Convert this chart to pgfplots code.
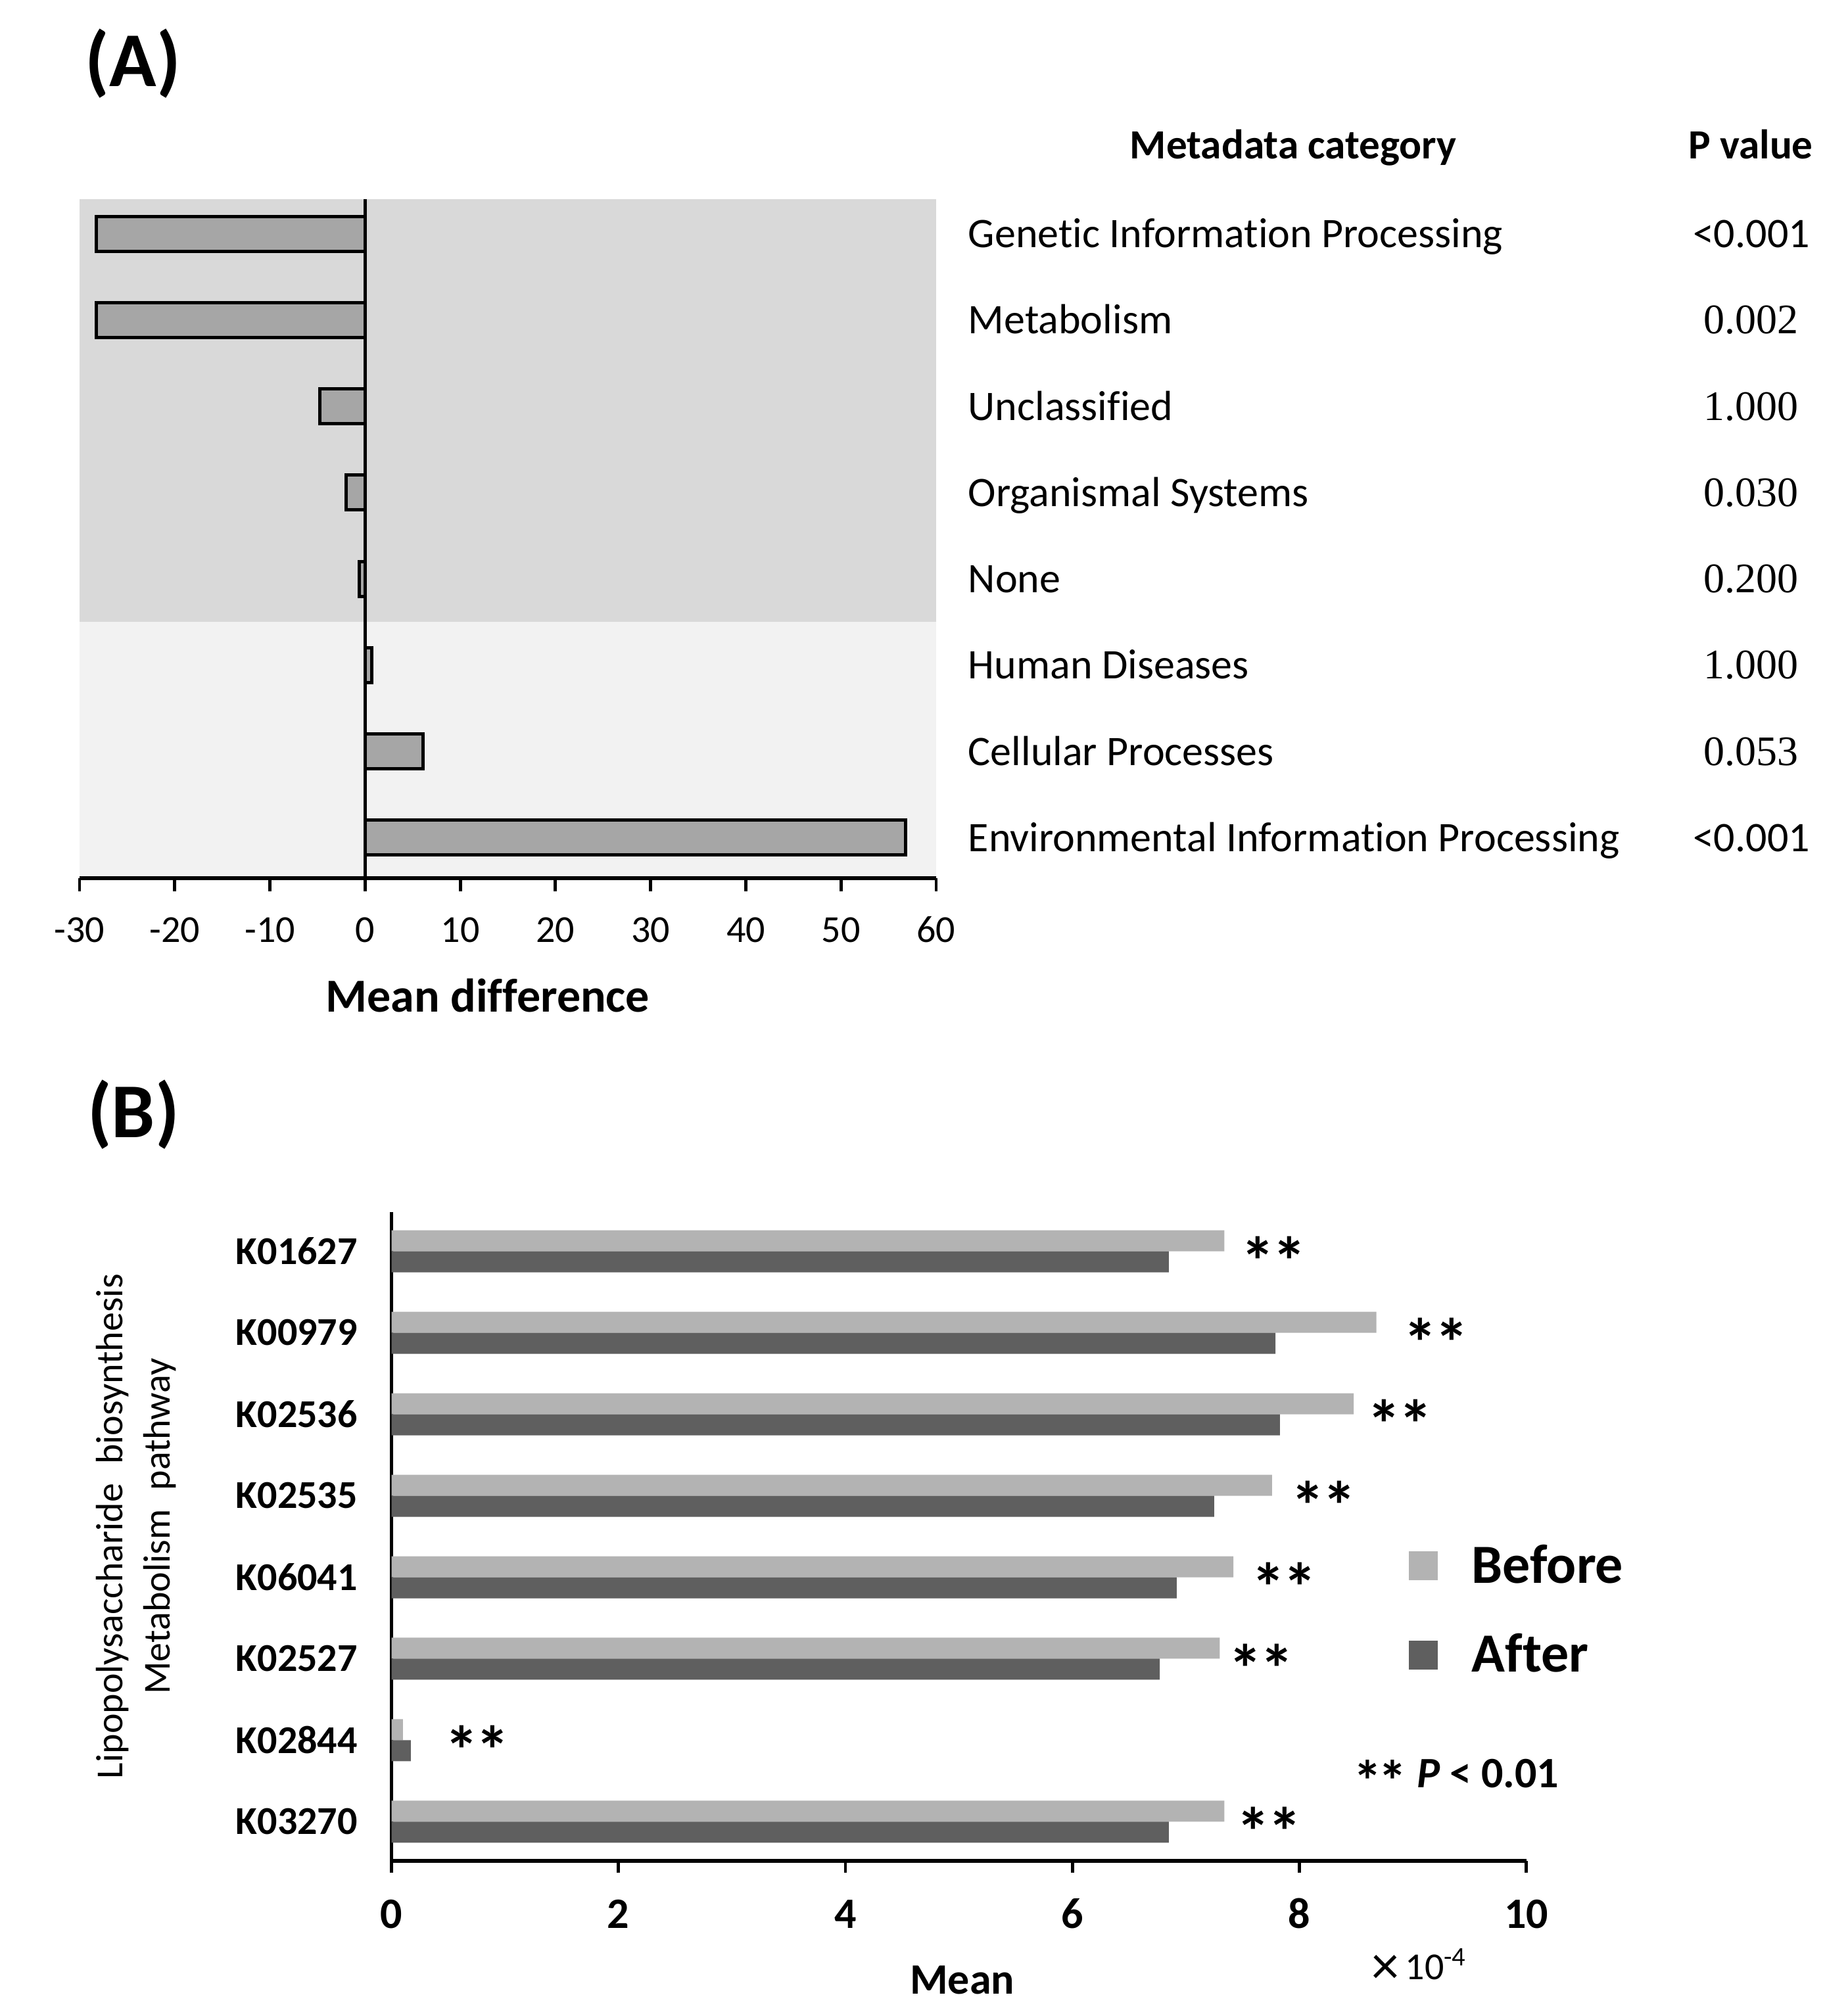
\documentclass[border=0pt]{standalone}
\usepackage{pgfplots}
\pgfplotsset{compat=1.18}
\usepackage{fontspec}
\setmainfont{Carlito}[Ligatures={NoCommon}]
\newfontfamily\timesf{Liberation Serif}
\definecolor{bgdark}{HTML}{D9D9D9}
\definecolor{bglight}{HTML}{F2F2F2}
\definecolor{barA}{HTML}{A6A6A6}
\definecolor{before}{HTML}{B3B3B3}
\definecolor{after}{HTML}{5F5F5F}
\newcommand{\catfont}{\fontsize{16}{19}\selectfont}
\newcommand{\catlab}[3]{%
  \node[anchor=base west, font=\catfont, inner sep=0pt, xshift=12pt, yshift=-5.3pt] at (axis cs:60,#1) {#2};
  \node[anchor=base, font=\catfont, inner sep=0pt, xshift=310pt, yshift=-5.3pt] at (axis cs:60,#1) {#3};}
\newcommand{\stars}[2]{%
  \node[anchor=base west, font=\bfseries\fontsize{26}{26}\selectfont, inner sep=0pt, xshift=-2.5pt, yshift=-13.1pt] at (axis cs:#1,#2) {*\kern-1pt*};}
\begin{document}
\begin{tikzpicture}
\useasboundingbox (0,0) rectangle (702.5pt,766.75pt);
% ---------------- Panel A ----------------
\begin{axis}[
  at={(30.25pt,432.75pt)}, anchor=south west,
  scale only axis, width=325.75pt, height=258.25pt,
  xmin=-30, xmax=60, ymin=-0.47, ymax=7.4,
  axis x line=bottom, axis y line=none,
  axis line style={-, line width=1.4pt},
  axis on top, clip=false,
  xtick={-30,-20,...,60},
  tick align=outside, major tick length=5pt,
  xtick style={black, line width=1.2pt},
  xticklabel style={font=\fontsize{14.5}{17}\selectfont, anchor=base, yshift=-19.4pt},
  /pgf/number format/assume math mode=true,
]
\fill[bgdark] (axis cs:-30,2.5) rectangle (axis cs:60,7.4);
\fill[bglight] (axis cs:-30,-0.47) rectangle (axis cs:60,2.5);
\addplot[xbar, fill=barA, draw=black, line width=1.25pt, bar width=13.25pt]
  coordinates {(56.8,0) (6.06,1) (0.71,2) (-0.6,3) (-2.0,4) (-4.78,5) (-28.24,6) (-28.24,7)};
\draw[line width=1.3pt] (axis cs:0,-0.47) -- (axis cs:0,7.4);
\catlab{7}{Genetic Information Processing}{<0.001}
\catlab{6}{Metabolism}{\timesf 0.002}
\catlab{5}{Unclassified}{\timesf 1.000}
\catlab{4}{Organismal Systems}{\timesf 0.030}
\catlab{3}{None}{\timesf 0.200}
\catlab{2}{Human Diseases}{\timesf 1.000}
\catlab{1}{Cellular Processes}{\timesf 0.053}
\catlab{0}{Environmental Information Processing}{<0.001}
\end{axis}
\node[font=\bfseries\fontsize{29.5}{34}\selectfont] at (50.6pt,742.5pt) {(A)};
\node[anchor=base, font=\bfseries\fontsize{15.8}{19}\selectfont] at (491.75pt,706.25pt) {Metadata category};
\node[anchor=base, font=\bfseries\fontsize{15.8}{19}\selectfont] at (665.75pt,706.25pt) {P value};
\node[anchor=base, font=\bfseries\fontsize{18}{21}\selectfont] at (185.5pt,381.75pt) {Mean difference};
% ---------------- Panel B ----------------
\begin{axis}[
  at={(148.875pt,59pt)}, anchor=south west,
  scale only axis, width=431.5pt, height=246.75pt,
  xmin=0, xmax=10, ymin=-0.48, ymax=7.48,
  axis x line=bottom, axis y line=left,
  axis line style={-, line width=1.4pt},
  clip=false,
  xtick={0,2,...,10},
  tick align=outside, major tick length=4.5pt,
  xtick style={black, line width=1.2pt},
  ytick={0,...,7},
  yticklabels={K03270,K02844,K02527,K06041,K02535,K02536,K00979,K01627},
  ytick style={draw=none},
  yticklabel style={font=\bfseries\fontsize{15}{18}\selectfont, xshift=-4.9pt},
  xticklabel style={font=\bfseries\fontsize{16.5}{19}\selectfont, anchor=base, yshift=-21pt},
  /pgf/number format/assume math mode=true,
  legend style={at={(axis cs:8.96,3.47)}, anchor=north west, draw=none, fill=none,
    font=\bfseries\fontsize{21}{25}\selectfont, row sep=13.8pt, inner sep=0pt,
    /tikz/every odd column/.append style={column sep=11pt}},
  legend cell align=left,
]
\addplot[xbar, fill=before, draw=none, bar width=8pt, bar shift=4pt,
  legend image code/.code={\fill[before] (0pt,-5.5pt) rectangle (11pt,5.5pt);}]
  coordinates {(7.34,0) (0.10,1) (7.30,2) (7.42,3) (7.76,4) (8.48,5) (8.68,6) (7.34,7)};
\addlegendentry{Before}
\addplot[xbar, fill=after, draw=none, bar width=8pt, bar shift=-4pt,
  legend image code/.code={\fill[after] (0pt,-5.5pt) rectangle (11pt,5.5pt);}]
  coordinates {(6.85,0) (0.17,1) (6.77,2) (6.92,3) (7.25,4) (7.83,5) (7.79,6) (6.85,7)};
\addlegendentry{After}
\stars{7.54}{7}
\stars{8.97}{6}
\stars{8.65}{5}
\stars{7.98}{4}
\stars{7.63}{3}
\stars{7.43}{2}
\stars{0.52}{1}
\stars{7.50}{0}
\end{axis}
\node[font=\bfseries\fontsize{29.5}{34}\selectfont] at (50.75pt,342.75pt) {(B)};
\node[rotate=90, align=center, font=\fontsize{14.5}{18}\selectfont] at (51.75pt,186.25pt)
  {Lipopolysaccharide\hskip0.5em biosynthesis\\Metabolism\hskip0.5em pathway};
\node[anchor=base, font=\bfseries\fontsize{16.5}{20}\selectfont] at (365.9pt,8.5pt) {Mean};
\node[anchor=base west, font=\fontsize{14.5}{17}\selectfont] at (518pt,13.8pt)
  {\raisebox{-1.6pt}{\fontsize{21}{21}\selectfont ×}\,10\textsuperscript{-4}};
\node[anchor=base east, inner sep=0pt, font=\bfseries\fontsize{16.5}{20}\selectfont] at (593pt,86.75pt)
  {\raisebox{-5pt}{\fontsize{22}{22}\selectfont *\kern-1.5pt*}\ \textit{P} < 0.01};
\end{tikzpicture}
\end{document}
